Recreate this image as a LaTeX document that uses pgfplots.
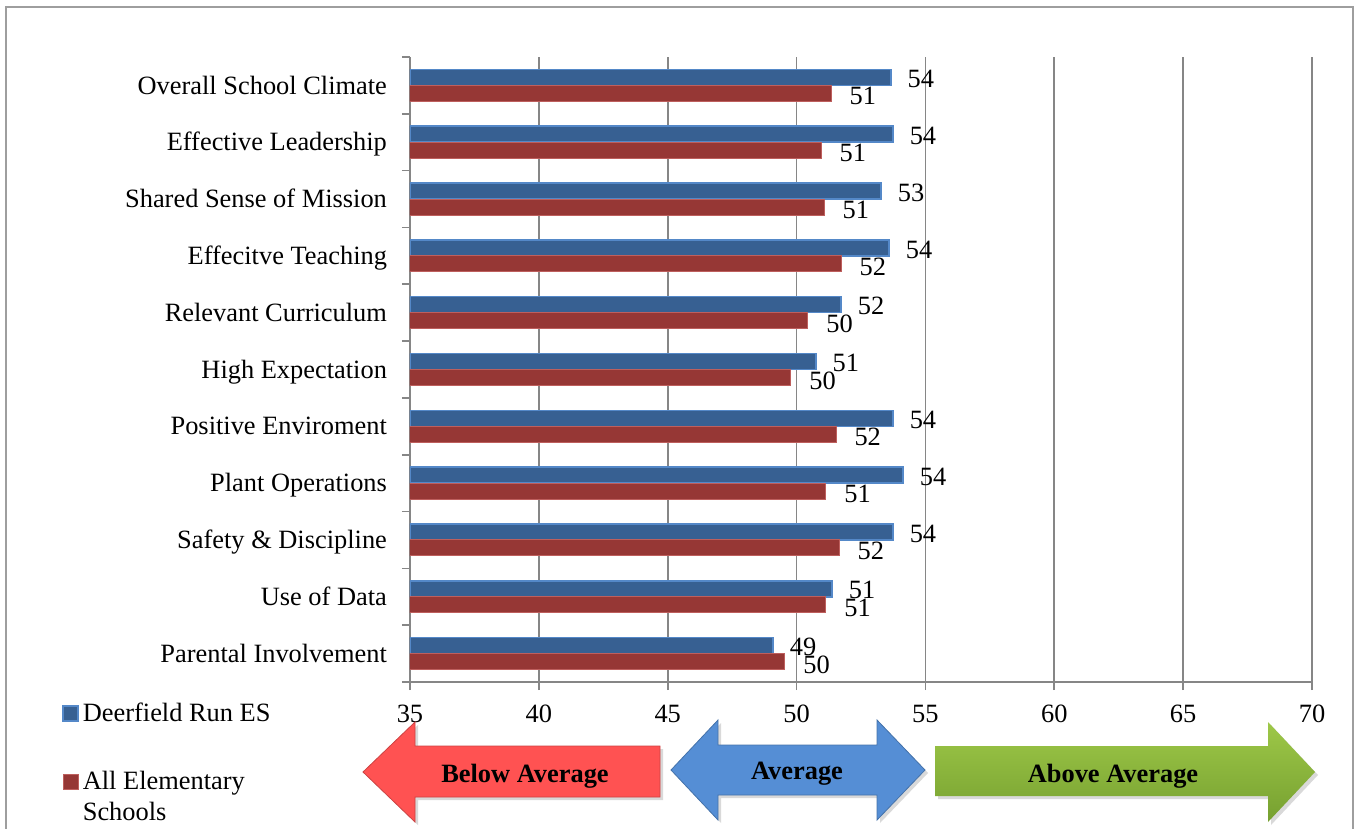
\documentclass[border=0pt]{standalone}
\usepackage{pgfplots}
\pgfplotsset{compat=1.18}
\usepackage{fontspec}
\setmainfont{Liberation Serif}
\usetikzlibrary{shadows}

\definecolor{barblue}{RGB}{55,96,146}
\definecolor{edgeblue}{RGB}{84,136,200}
\definecolor{barred}{RGB}{150,55,53}
\definecolor{edgered}{RGB}{190,95,93}
\definecolor{gridgray}{RGB}{134,134,134}
\definecolor{arrred}{RGB}{255,82,82}
\definecolor{arrblue}{RGB}{85,142,213}
\definecolor{arrgreenA}{RGB}{158,200,72}
\definecolor{arrgreenB}{RGB}{118,160,48}

% legend square raised to the first line of a two-line entry
\pgfplotsset{
  squareimg/.style={legend image code/.code={\draw[##1] (0pt,-3.75pt) rectangle (7.5pt,3.75pt);}},
  topsquareimg/.style={legend image code/.code={\path[draw=none,fill=none] (0pt,-11.25pt) rectangle (7.5pt,11.25pt);
    \draw[##1] (0pt,3.75pt) rectangle (7.5pt,11.25pt);}},
}

% scores, bottom category first
\pgfplotstableread{
y  deer   allel
0  49.09  49.55
1  51.38  51.14
2  53.74  51.65
3  54.13  51.14
4  53.74  51.53
5  50.75  49.78
6  51.73  50.44
7  53.59  51.73
8  53.28  51.07
9  53.74  50.95
10 53.66  51.34
}\scores

\begin{document}
\begin{tikzpicture}
\tikzset{every node/.style={font=\fontsize{13.2}{15.8}\selectfont}}
\begin{scope}[x=0.5pt,y=-0.5pt]
  \useasboundingbox (0,0) rectangle (1355,829);
  \draw[gridgray!80, line width=1pt] (6,840) -- (6,7) -- (1353,7) -- (1353,840);
\end{scope}

\begin{axis}[
    at={(205pt,-341pt)}, anchor=south west,
    scale only axis, width=451pt, height=312.5pt,
    xbar, bar width=8pt,
    xmin=35, xmax=70, ymin=-0.5, ymax=10.5,
    xtick={35,40,...,70},
    xmajorgrids, grid style={gridgray, line width=0.8pt},
    axis x line*=bottom, axis y line*=left,
    axis line style={gridgray, line width=0.8pt},
    tick align=outside, major tick length=4pt,
    tick style={gridgray, line width=0.8pt},
    xticklabel style={yshift=-4pt},
    ytick={-0.5,0.5,...,10.5}, yticklabels={},
    extra y ticks={0,...,10},
    extra y tick labels={Parental Involvement, Use of Data, Safety \& Discipline,
      Plant Operations, Positive Enviroment, High Expectation, Relevant Curriculum,
      Effecitve Teaching, Shared Sense of Mission, Effective Leadership, Overall School Climate},
    extra y tick style={tick style={draw=none},
      yticklabel style={xshift=-4pt, text height=9pt, text depth=0.4pt}},
    /pgf/number format/assume math mode=true,
    nodes near coords,
    nodes near coords style={anchor=west, inner sep=0pt,
      /pgf/number format/fixed, /pgf/number format/precision=0},
    legend style={at={(-0.386,-0.029)}, anchor=north west, draw=none, fill=none,
      inner sep=0pt, row sep=21.3pt, nodes={align=left, inner sep=1pt}},
    legend cell align=left,
]
\addplot[fill=barblue, draw=edgeblue, line width=0.8pt, bar shift=4pt, squareimg,
  nodes near coords style={xshift=8pt, yshift=-0.8pt}]
  table[x=deer, y=y] {\scores};
\addplot[fill=barred, draw=edgered, line width=0.5pt, bar shift=-4pt, topsquareimg,
  nodes near coords style={xshift=9pt, yshift=-1.5pt}]
  table[x=allel, y=y] {\scores};
\legend{\hspace{1pt}Deerfield Run ES, \hspace{1pt}All Elementary\\\hspace{1pt}Schools}
\end{axis}

\begin{scope}[x=0.5pt,y=-0.5pt]
  \fill[arrred, draw=arrred!80!black, drop shadow={opacity=0.3,shadow xshift=1.5pt,shadow yshift=-1.5pt}]
    (363,772) -- (415,722) -- (415,746) -- (660,746) -- (660,797) -- (415,797) -- (415,822) -- cycle;
  \fill[arrblue, draw=arrblue!80!black, drop shadow={opacity=0.3,shadow xshift=1.5pt,shadow yshift=-1.5pt}]
    (671,770) -- (718,720) -- (718,745) -- (877,745) -- (877,720) -- (925,770)
    -- (877,820) -- (877,795) -- (718,795) -- (718,820) -- cycle;
  \shade[top color=arrgreenA, bottom color=arrgreenB, drop shadow={opacity=0.3,shadow xshift=1.5pt,shadow yshift=-1.5pt}]
    (935,746) -- (1268,746) -- (1268,722) -- (1315,772) -- (1268,822) -- (1268,796) -- (935,796) -- cycle;
  \node[anchor=base, font=\fontsize{13.2}{15.8}\selectfont\bfseries] at (525,782) {Below Average};
  \node[anchor=base, font=\fontsize{13.2}{15.8}\selectfont\bfseries] at (797,779) {Average};
  \node[anchor=base, font=\fontsize{13.2}{15.8}\selectfont\bfseries] at (1113,782) {Above Average};
\end{scope}
\end{tikzpicture}
\end{document}
